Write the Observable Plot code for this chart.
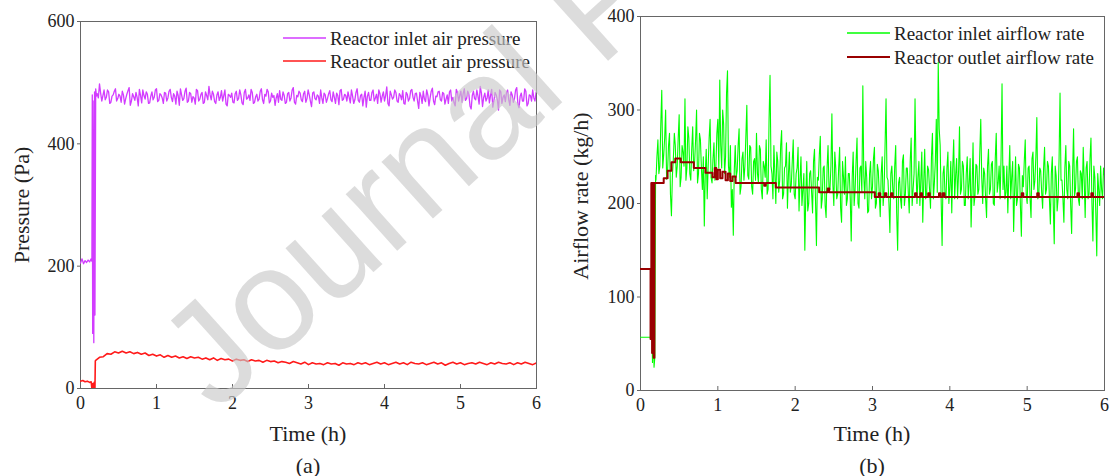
<!DOCTYPE html>
<html>
<head>
<meta charset="utf-8">
<script src="https://cdn.jsdelivr.net/npm/d3@7"></script>
<script src="https://cdn.jsdelivr.net/npm/@observablehq/plot@0.6"></script>
<style>
  html, body { margin: 0; padding: 0; background: #fff; }
  #wrap { position: relative; width: 1111px; height: 476px; overflow: hidden; font-family: "Liberation Serif", "Times New Roman", serif; color: #222; }
  .panel { position: absolute; top: 0; }
  #overlay { position: absolute; left: 0; top: 0; pointer-events: none; }
</style>
</head>
<body>
<div id="wrap">
  <div class="panel" id="pa" style="left:0"></div>
  <div class="panel" id="pb" style="left:555px"></div>
</div>
<script>
// ---------- shared axis ticks ----------
const timeTicks = [0, 1, 2, 3, 4, 5, 6];
const pressureTicks = [0, 200, 400, 600];
const flowTicks = [0, 100, 200, 300, 400];

// ---------- panel (a): pressure ----------
// start-up phase (explicit sample times, h)
const inletStartTime = [0, 0.02, 0.04, 0.06, 0.08, 0.10, 0.12, 0.14, 0.15, 0.155, 0.16, 0.165, 0.175, 0.185, 0.19, 0.20, 0.21];
const inletStartPa   = [205, 212, 204, 209, 206, 210, 207, 212, 208, 480, 90, 470, 75, 485, 120, 490, 478];
// steady phase, logger channel A: every 0.03 h from 0.22 h
const inletSteadyStart = 0.22, inletSteadyStep = 0.03;
const inletSteadyPa = [
  482,498,470,488,476,485,468,480,490,474,
  478,486,465,481,492,470,477,484,462,479,
  488,473,481,467,485,476,490,471,480,466,
  483,475,489,469,478,486,463,480,474,491,
  470,482,477,465,487,473,484,468,479,494,
  472,481,466,485,476,470,488,462,479,483,
  467,486,474,480,464,489,475,471,484,468,
  481,473,490,466,478,485,470,476,463,482,
  487,471,479,468,484,475,492,465,477,483,
  469,486,474,480,461,485,472,478,488,466,
  480,474,487,469,476,483,464,489,473,479,
  485,467,478,472,490,468,481,476,460,484,
  471,488,475,466,482,478,470,493,462,480,
  476,484,468,479,487,465,481,474,489,470,
  483,458,478,486,469,480,475,491,464,477,
  486,470,482,473,466,488,476,462,484,479,
  468,490,474,481,457,486,472,478,494,461,
  483,475,467,489,471,480,455,485,476,469,
  488,463,480,474,492,459,483,470,486,466,
  479,488,470
];
// steady phase, intermediate samples: every 0.03 h from 0.235 h
const inletMidStart = 0.235, inletMidStep = 0.03;
const inletMidPa = [
  475,483,479,472,488,466,478,486,470,481,
  468,480,474,487,463,482,471,476,489,467,
  479,485,466,478,472,488,469,482,475,484,
  470,486,476,482,465,479,490,471,486,468,
  484,468,475,489,470,481,466,485,472,480,
  486,469,480,471,487,479,465,481,476,468,
  482,471,488,467,484,473,480,489,466,477,
  470,486,472,481,489,467,483,479,475,468,
  473,485,466,482,470,488,468,479,486,472,
  482,468,488,470,483,474,480,466,475,483,
  468,482,472,485,466,479,487,471,481,470,
  476,488,466,484,471,479,462,486,478,471,
  484,470,481,488,468,485,479,466,486,473,
  488,470,482,472,466,484,470,487,476,482,
  470,484,466,473,488,462,486,470,478,485,
  472,484,465,480,485,470,467,489,470,486,
  482,471,486,462,479,474,488,465,483,476,
  470,488,479,460,484,472,488,466,480,484,
  472,485,468,488,465,478,470,490,462,480,
  470,475,484
];
const outletStartTime = [0, 0.03, 0.06, 0.09, 0.12, 0.14, 0.15, 0.16, 0.17, 0.18, 0.19, 0.195];
const outletStartPa   = [12, 13, 11, 12, 10, 11, 0, 8, 0, 10, 0, 45];
const outletSteadyStart = 0.2, outletSteadyStep = 0.05;
const outletSteadyPa = [
  46,51,52,57,56,60,58,61,58,60,
  57,59,56,58,54,56,53,55,51,54,
  51,53,50,52,49,52,50,51,48,50,
  47,50,46,49,47,48,45,48,46,47,
  44,47,45,46,43,46,44,45,42,44,
  43,41,44,42,40,43,39,42,40,41,
  39,42,40,41,38,42,40,41,39,42,
  40,42,39,41,43,40,42,39,41,43,
  40,42,39,43,41,40,42,39,41,43,
  40,42,38,41,43,40,42,39,41,42,
  40,43,41,39,42,40,43,41,40,42,
  39,42,40,43,41,39,42
];

// ---------- panel (b): airflow ----------
const inletFlowStartTime = [0, 0.05, 0.10, 0.15, 0.155, 0.165, 0.175, 0.185, 0.195];
const inletFlowStartKgh  = [57, 57, 57, 57, 30, 95, 25, 35, 230];
// steady phase, channel A: every 0.025 h from 0.2 h
const inletFlowSteadyStart = 0.2, inletFlowSteadyStep = 0.025;
const inletFlowSteadyKgh = [
  225,268,240,321,252,300,235,275,187,248,
  262,240,295,228,255,312,238,270,225,282,
  245,300,232,268,215,176,258,240,290,222,
  265,240,290,332,238,285,250,342,228,196,
  166,262,235,280,218,255,240,305,226,260,
  210,248,275,222,258,205,240,268,215,337,
  232,262,200,245,225,278,210,240,195,255,
  220,268,205,238,192,250,215,150,245,200,
  235,190,258,155,225,272,205,240,185,262,
  215,296,198,238,210,260,180,228,250,205,
  232,160,255,215,270,195,240,326,205,228,
  192,245,218,260,200,235,186,250,215,312,
  225,169,240,205,262,150,228,195,252,210,
  238,190,270,215,312,200,245,225,180,258,
  210,236,195,275,222,290,351,262,155,240,
  205,255,218,190,268,230,205,282,215,240,
  198,250,222,175,265,208,240,215,290,200,
  232,185,258,215,245,198,275,222,205,328,
  240,212,190,262,228,170,250,205,238,165,
  218,268,200,240,185,255,225,292,208,235,
  195,260,215,240,178,250,157,230,205,318,
  225,180,262,205,240,168,280,215,250,198,
  232,260,185,245,210,270,160,228,144,215,
  240,205,230
];
// steady phase, intermediate samples: every 0.025 h from 0.2125 h
const inletFlowMidStart = 0.2125, inletFlowMidStep = 0.025;
const inletFlowMidKgh = [
  250,232,285,238,270,226,262,210,230,275,
  228,270,218,262,240,225,282,232,258,235,
  268,222,275,238,250,232,205,270,228,248,
  225,275,238,262,300,232,318,240,262,215,
  235,228,262,210,248,225,272,230,262,218,
  245,225,232,262,215,245,228,210,290,240,
  205,232,255,212,262,205,238,265,230,212,
  245,210,232,260,225,198,232,210,192,232,
  212,245,205,228,252,195,238,198,238,215,
  240,220,255,205,238,195,245,210,198,232,
  205,228,198,245,200,238,212,230,245,190,
  232,205,248,195,242,210,232,198,262,228,
  200,232,215,240,190,222,205,245,198,238,
  212,245,198,232,240,228,198,255,222,205,
  240,215,250,205,245,212,280,205,232,210,
  238,200,245,238,205,248,232,210,245,198,
  232,205,248,215,198,242,210,255,228,238,
  205,240,210,242,200,248,212,240,250,215,
  205,240,228,205,245,212,198,242,198,230,
  245,210,238,205,248,215,250,205,238,212,
  238,210,245,205,232,198,240,192,248,225,
  205,238,215,245,198,232,208,245,205,235,
  205,225,238,205,248,200,240,190,232,198,
  215,238
];
// outlet airflow: step changes (time h, value kg/h)
const outletFlowTime = [0,0.13,0.14,0.15,0.16,0.17,0.18,0.30,0.35,0.40,0.45,0.52,0.69,0.84,0.93,0.96,0.98,1.00,1.03,1.06,1.10,1.13,1.16,1.19,1.23,1.60,1.62,1.75,2.31,2.42,2.44,3.03,3.08,3.10,3.16,3.18,3.24,3.26,3.55,3.57,3.62,3.64,3.72,3.74,3.86,3.88,3.91,3.93,4.93,4.95,5.13,5.15,5.65,5.67,5.83,5.85,6.0];
const outletFlowKgh  = [130,55,222,40,222,35,222,227,235,244,248,244,238,233,228,238,226,236,227,234,225,232,224,229,222,219,222,217,212,216,212,207,211,207,211,207,211,207,211,207,211,207,211,207,211,207,211,207,211,207,211,207,211,207,211,207,207];

// ---------- series metadata ----------
const seriesNames = ["Reactor inlet air pressure", "Reactor outlet air pressure", "Reactor inlet airflow rate", "Reactor outlet airflow rate"];
const seriesColors = ["#d23cff", "#ff1a1a", "#00ff00", "#990000"];

// ---------- build tables ----------
const rowsFrom = (times, vals) => times.map((t, i) => ({t, v: vals[i]}));
const rowsSteady = (t0, dt, vals) => vals.map((v, i) => ({t: t0 + i * dt, v}));
const byTime = (a, b) => a.t - b.t;
const inletP = [...rowsFrom(inletStartTime, inletStartPa),
  ...[...rowsSteady(inletSteadyStart, inletSteadyStep, inletSteadyPa), ...rowsSteady(inletMidStart, inletMidStep, inletMidPa)].sort(byTime)];
const outletP = [...rowsFrom(outletStartTime, outletStartPa), ...rowsSteady(outletSteadyStart, outletSteadyStep, outletSteadyPa)];
const inletF = [...rowsFrom(inletFlowStartTime, inletFlowStartKgh),
  ...[...rowsSteady(inletFlowSteadyStart, inletFlowSteadyStep, inletFlowSteadyKgh), ...rowsSteady(inletFlowMidStart, inletFlowMidStep, inletFlowMidKgh)].sort(byTime)];
const outletF = rowsFrom(outletFlowTime, outletFlowKgh);

const font = "'Liberation Serif', 'Times New Roman', serif";
const baseStyle = {fontFamily: font, fontSize: "18px", color: "#222", background: "transparent", overflow: "visible"};

function axes(yTicks) {
  return [
    Plot.frame({stroke: "#666", strokeWidth: 1}),
    Plot.axisX({ticks: timeTicks, tickSize: 0, tickPadding: 8, label: null, fontSize: 18, fontFamily: font, tickFormat: d => String(d)}),
    Plot.axisX({ticks: timeTicks, tickSize: -4, tickPadding: 0, label: null, tickFormat: () => "", stroke: "#666"}),
    Plot.axisY({ticks: yTicks, tickSize: 3, tickPadding: 3, label: null, fontSize: 18, fontFamily: font, tickFormat: d => String(d), stroke: "#666"})
  ];
}

const chartA = Plot.plot({
  width: 555, height: 445,
  marginLeft: 80, marginRight: 19, marginTop: 21, marginBottom: 57,
  style: baseStyle,
  x: {domain: [0, 6]},
  y: {domain: [0, 600]},
  marks: [
    ...axes(pressureTicks),
    Plot.line(inletP, {x: "t", y: "v", stroke: seriesColors[0], strokeWidth: 1.3, clip: true}),
    Plot.line(outletP, {x: "t", y: "v", stroke: seriesColors[1], strokeWidth: 1.6, clip: true})
  ]
});
document.getElementById("pa").append(chartA);

const chartB = Plot.plot({
  width: 556, height: 445,
  marginLeft: 85, marginRight: 7, marginTop: 16, marginBottom: 55,
  style: baseStyle,
  x: {domain: [0, 6]},
  y: {domain: [0, 400]},
  marks: [
    ...axes(flowTicks),
    Plot.line(inletF, {x: "t", y: "v", stroke: seriesColors[2], strokeWidth: 1.1, clip: true}),
    Plot.line(outletF, {x: "t", y: "v", stroke: seriesColors[3], strokeWidth: 2, curve: "step-after", clip: true})
  ]
});
document.getElementById("pb").append(chartB);

// ---------- overlay: axis titles, captions, legends, watermark ----------
const svg = d3.select("#wrap").append("svg").attr("id", "overlay").attr("width", 1111).attr("height", 476)
  .style("font-family", font).style("fill", "#222");

const titles = [
  {text: "Pressure (Pa)", x: 21, y: 205, rot: -90},
  {text: "Time (h)", x: 308, y: 433, rot: 0},
  {text: "(a)", x: 308, y: 465, rot: 0},
  {text: "Airflow rate (kg/h)", x: 580, y: 196, rot: -90},
  {text: "Time (h)", x: 872, y: 433, rot: 0},
  {text: "(b)", x: 872, y: 465, rot: 0}
];
svg.selectAll("text.title").data(titles).join("text").attr("class", "title")
  .attr("transform", d => `translate(${d.x},${d.y}) rotate(${d.rot})`)
  .attr("text-anchor", "middle").attr("dominant-baseline", "central")
  .attr("font-size", 22).text(d => d.text);

const legends = [
  {x: 283, y: 38, i: 0}, {x: 283, y: 61, i: 1},
  {x: 847, y: 33, i: 2}, {x: 847, y: 57, i: 3}
];
const lg = svg.selectAll("g.leg").data(legends).join("g").attr("class", "leg")
  .attr("transform", d => `translate(${d.x},${d.y})`);
lg.append("line").attr("x1", 0).attr("x2", 43).attr("y1", 0).attr("y2", 0)
  .attr("stroke", d => seriesColors[d.i]).attr("stroke-width", d => d.i === 3 ? 2 : 1.6);
lg.append("text").attr("x", 47).attr("y", 0).attr("dominant-baseline", "central")
  .attr("font-size", 19).text(d => seriesNames[d.i]);

svg.append("text").text("Journal Pre-proof")
  .attr("transform", "translate(216,414) rotate(-42)")
  .attr("font-family", "'Liberation Sans', Arial, sans-serif")
  .attr("font-size", 145)
  .attr("fill", "#c8c8c8").attr("fill-opacity", 0.64);
</script>
</body>
</html>
